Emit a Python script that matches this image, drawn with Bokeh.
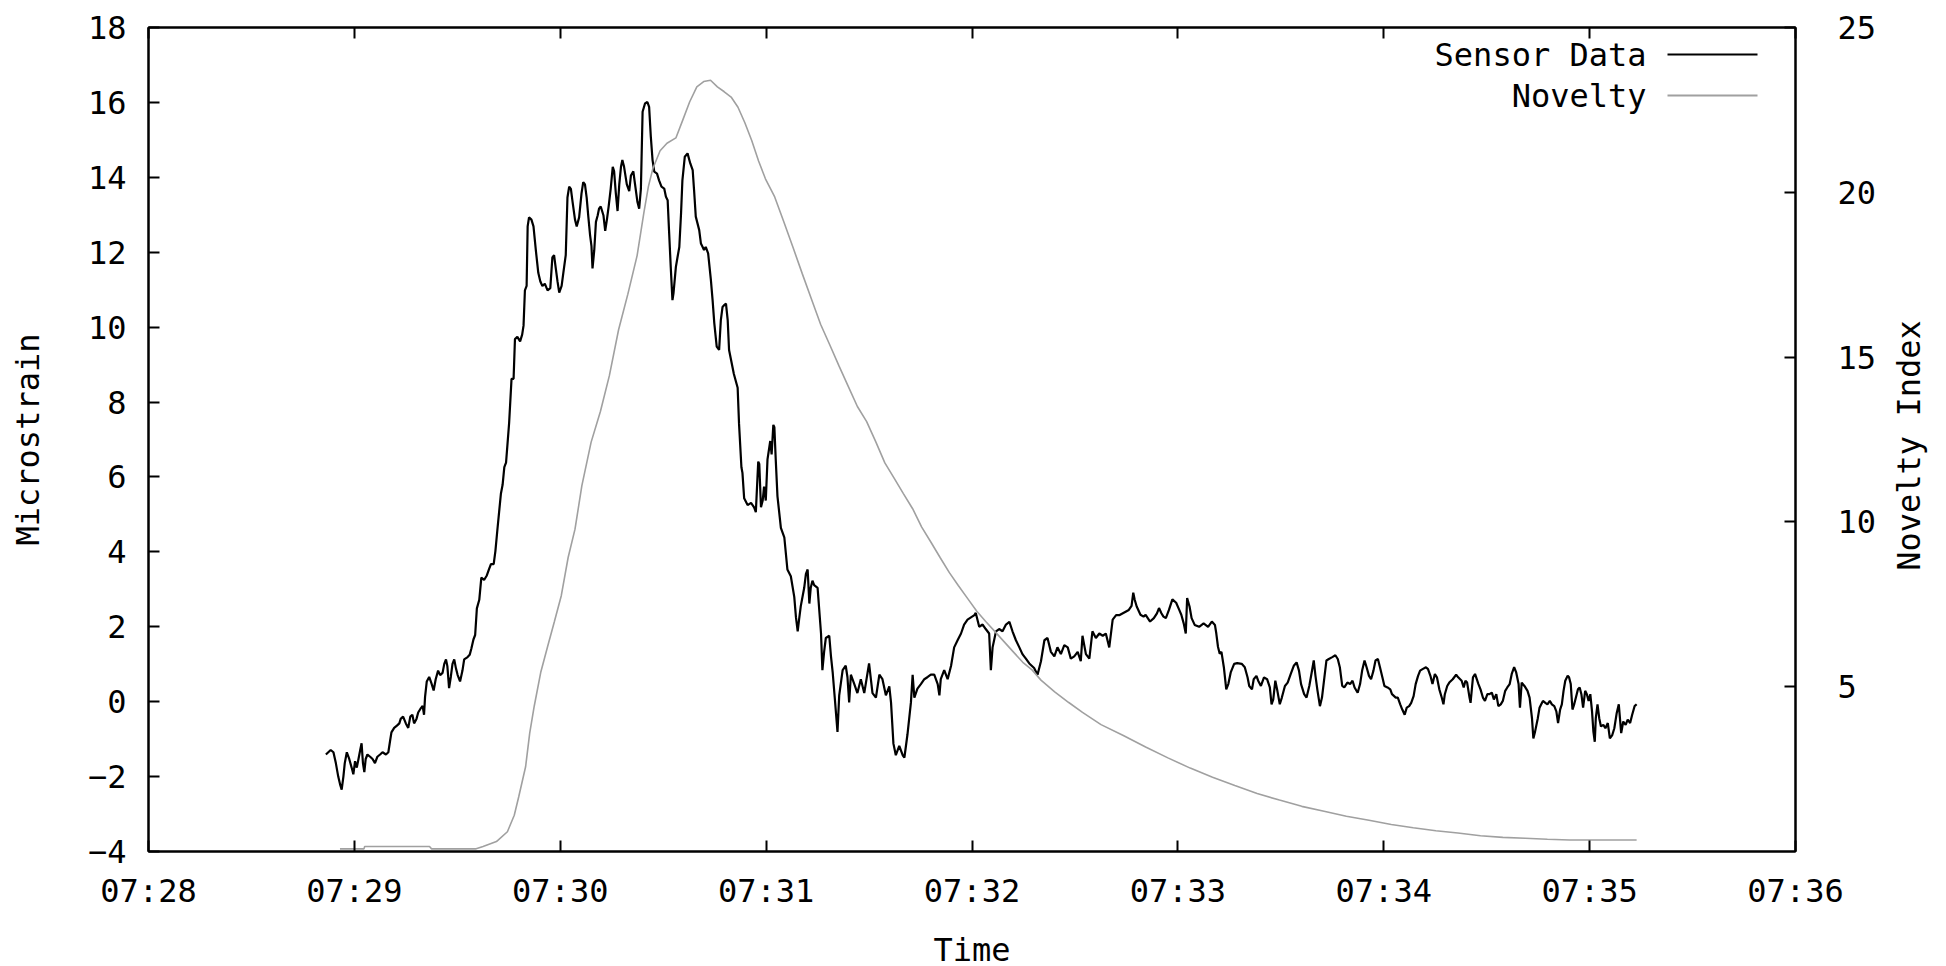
import pandas as pd
import math
from bokeh.plotting import figure
from bokeh.layouts import row
from bokeh.models import (LinearAxis, DatetimeAxis, Range1d, FixedTicker,
                          DatetimeTickFormatter, Label, BoxAnnotation)
from bokeh.embed import file_html
from bokeh.resources import INLINE

# ---------------- data ----------------
DAY = "2012-01-01"
START = "07:28:00"
x_tick_labels = ["07:28", "07:29", "07:30", "07:31", "07:32",
                 "07:33", "07:34", "07:35", "07:36"]
left_ticks = [-4, -2, 0, 2, 4, 6, 8, 10, 12, 14, 16, 18]
right_ticks = [5, 10, 15, 20, 25]
legend_labels = ["Sensor Data", "Novelty"]
axis_titles = {"x": "Time", "y": "Microstrain", "y2": "Novelty Index"}

# seconds after 07:28:00 and microstrain values
sensor_sec = [
    51.7, 53.1, 53.9, 54.6, 55.3, 55.9, 56.3, 56.8, 57.2, 57.8,
    58.5, 59.2, 59.7, 60.2, 60.7, 61.2, 61.7, 62.1, 62.5, 62.9,
    63.3, 63.8, 64.6, 65.3, 66.0, 66.7, 67.5, 68.2, 69.2, 69.9,
    70.4, 70.8, 71.6, 72.4, 73.1, 73.5, 74.2, 75.0, 75.7, 76.3,
    76.9, 77.4, 78.1, 78.6, 79.4, 79.9, 80.3, 80.6, 81.1, 81.8,
    82.5, 83.1, 83.7, 84.4, 85.0, 85.7, 86.2, 86.7, 87.1, 87.6,
    88.1, 88.6, 89.1, 89.6, 90.1, 90.8, 91.5, 92.0, 93.0, 93.6,
    94.1, 94.7, 95.2, 95.7, 96.4, 97.0, 97.8, 98.6, 99.3, 99.8,
    100.6, 101.1, 101.7, 102.2, 102.7, 103.2, 103.7, 104.2, 104.6, 105.1,
    105.8, 106.4, 106.8, 107.5, 108.3, 108.9, 109.3, 109.7, 110.2, 110.5,
    110.9, 111.6, 112.2, 112.9, 113.6, 114.2, 114.8, 115.5, 116.3, 117.1,
    117.7, 118.2, 118.7, 119.2, 119.7, 120.4, 120.9, 121.6, 122.1, 122.6,
    123.1, 123.6, 124.3, 124.8, 125.5, 126.2, 126.7, 127.2, 127.7, 128.2,
    128.7, 129.1, 129.4, 129.9, 130.4, 130.9, 131.3, 131.8, 132.6, 133.1,
    133.6, 134.1, 134.7, 135.3, 135.7, 136.2, 136.7, 137.2, 137.7, 138.1,
    138.6, 139.4, 140.1, 140.6, 141.3, 141.8, 142.5, 143.0, 143.5, 144.0,
    144.7, 145.4, 145.9, 146.4, 146.9, 147.4, 148.2, 148.8, 149.5, 150.3,
    150.8, 151.3, 151.7, 152.2, 152.7, 153.0, 153.7, 154.2, 154.7, 155.2,
    155.6, 156.3, 157.1, 157.9, 158.6, 159.0, 159.5, 160.0, 160.5, 161.0,
    161.5, 161.9, 162.4, 163.1, 163.9, 164.4, 164.9, 165.6, 166.3, 166.8,
    167.3, 167.8, 168.3, 168.8, 169.2, 170.6, 171.7, 172.1, 172.8, 173.1,
    173.6, 174.6, 175.6, 176.5, 177.0, 177.7, 178.0, 178.5, 179.0, 179.4,
    179.9, 180.4, 181.2, 181.6, 182.1, 182.4, 182.8, 183.3, 184.3, 185.3,
    186.2, 187.2, 188.2, 188.7, 189.2, 189.6, 190.1, 191.1, 191.6, 192.1,
    192.6, 193.0, 193.5, 194.0, 195.0, 196.0, 196.4, 196.9, 197.4, 198.4,
    198.9, 199.4, 200.0, 200.8, 201.3, 202.3, 203.2, 203.7, 204.2, 204.7,
    205.7, 206.6, 207.6, 208.6, 210.0, 211.0, 212.0, 213.0, 213.9, 214.9,
    215.9, 216.4, 217.1, 217.8, 218.8, 219.8, 220.3, 221.2, 222.2, 222.7,
    223.2, 224.1, 225.1, 226.1, 227.1, 228.0, 229.0, 230.0, 230.5, 230.9,
    231.9, 232.9, 233.9, 234.8, 235.8, 236.8, 237.7, 238.7, 239.7, 240.7,
    241.1, 242.1, 243.1, 244.0, 245.0, 245.5, 246.0, 247.0, 247.9, 248.9,
    249.9, 250.9, 251.8, 252.8, 253.8, 254.7, 255.7, 256.7, 258.1, 259.1,
    260.1, 261.1, 262.0, 263.0, 264.0, 264.9, 265.9, 266.9, 267.9, 268.8,
    269.8, 270.8, 271.7, 272.2, 273.2, 274.2, 275.1, 276.1, 277.1, 278.1,
    279.0, 280.0, 281.0, 282.0, 282.9, 285.7, 286.5, 287.0, 287.4, 288.0,
    289.1, 290.0, 290.6, 291.9, 293.0, 293.9, 294.5, 295.2, 295.8, 296.5,
    297.4, 298.4, 299.5, 300.4, 301.0, 301.7, 302.3, 302.7, 303.4, 304.0,
    304.9, 306.2, 307.5, 308.8, 309.9, 310.8, 311.2, 311.7, 312.2, 312.7,
    313.4, 314.1, 314.7, 315.4, 316.4, 317.3, 318.6, 319.5, 320.3, 320.8,
    321.6, 322.1, 322.9, 323.4, 324.2, 325.1, 326.0, 326.8, 327.3, 327.8,
    328.4, 329.0, 329.7, 330.3, 331.2, 332.0, 332.9, 333.8, 334.6, 335.3,
    335.9, 336.8, 337.5, 338.3, 339.0, 339.6, 340.1, 340.7, 341.4, 342.0,
    342.7, 343.3, 344.0, 345.0, 345.9, 346.6, 347.2, 347.9, 348.5, 349.4,
    350.2, 350.9, 351.5, 352.4, 353.1, 353.7, 354.4, 355.0, 355.7, 356.3,
    357.0, 357.6, 358.3, 358.9, 359.6, 360.2, 361.1, 361.9, 362.4, 363.5,
    364.1, 364.8, 365.4, 366.1, 366.7, 367.4, 368.0, 368.7, 369.3, 370.0,
    370.6, 371.3, 372.3, 372.9, 373.6, 374.2, 374.9, 375.5, 376.2, 376.9,
    377.4, 377.8, 378.5, 379.1, 380.1, 381.1, 381.7, 382.7, 383.3, 383.8,
    384.3, 385.0, 385.3, 386.0, 386.6, 387.6, 388.2, 388.9, 389.5, 390.2,
    390.8, 391.5, 392.1, 392.8, 393.4, 394.1, 394.7, 395.4, 396.0, 396.7,
    397.3, 398.0, 398.6, 399.3, 399.7, 400.2, 401.0, 401.9, 402.5, 403.2,
    403.6, 404.1, 404.9, 405.4, 405.9, 406.4, 407.1, 407.7, 408.4, 409.0,
    409.7, 410.3, 410.8, 411.4, 411.9, 412.4, 412.9, 413.6, 414.0, 414.5,
    415.0, 415.5, 416.0, 416.6, 417.1, 417.6, 418.1, 418.7, 419.2, 419.7,
    420.2, 420.7, 421.1, 421.5, 421.8, 422.3, 422.8, 423.3, 424.0, 424.6,
    425.3, 425.9, 426.6, 427.2, 427.9, 428.5, 429.2, 429.8, 430.5, 431.1,
    431.8, 432.4, 433.1, 433.7,
]
sensor_val = [
    -1.41, -1.29, -1.35, -1.64, -2.00, -2.23, -2.35, -2.00, -1.64, -1.35,
    -1.53, -1.76, -1.94, -1.59, -1.76, -1.53, -1.29, -1.11, -1.64, -1.88,
    -1.53, -1.41, -1.47, -1.53, -1.64, -1.47, -1.41, -1.35, -1.41, -1.35,
    -1.05, -0.82, -0.70, -0.64, -0.58, -0.46, -0.40, -0.58, -0.70, -0.40,
    -0.35, -0.58, -0.46, -0.29, -0.17, -0.11, -0.35, 0.13, 0.54, 0.66,
    0.48, 0.30, 0.60, 0.83, 0.71, 0.77, 1.01, 1.13, 0.95, 0.36,
    0.66, 1.01, 1.13, 0.89, 0.71, 0.54, 0.83, 1.13, 1.19, 1.25,
    1.42, 1.66, 1.78, 2.49, 2.72, 3.31, 3.25, 3.37, 3.55, 3.67,
    3.67, 4.02, 4.61, 5.08, 5.55, 5.79, 6.26, 6.38, 6.85, 7.44,
    8.62, 8.62, 9.68, 9.74, 9.62, 9.80, 10.04, 10.98, 11.10, 12.69,
    12.93, 12.87, 12.69, 12.04, 11.45, 11.22, 11.10, 11.16, 10.98, 11.04,
    11.86, 11.92, 11.57, 11.22, 10.92, 11.10, 11.45, 11.92, 13.46, 13.75,
    13.69, 13.34, 12.87, 12.69, 12.93, 13.57, 13.87, 13.81, 13.46, 12.93,
    12.45, 12.16, 11.57, 12.04, 12.81, 12.98, 13.16, 13.22, 12.98, 12.57,
    12.87, 13.22, 13.69, 14.28, 14.16, 13.57, 13.10, 13.81, 14.28, 14.46,
    14.28, 13.81, 13.63, 14.05, 14.16, 13.81, 13.34, 13.16, 13.69, 15.75,
    15.97, 16.01, 15.88, 15.08, 14.46, 14.15, 14.10, 13.92, 13.75, 13.70,
    13.48, 13.39, 12.59, 11.61, 10.72, 10.90, 11.61, 11.88, 12.14, 13.03,
    13.92, 14.55, 14.64, 14.37, 14.19, 13.66, 12.95, 12.77, 12.59, 12.23,
    12.14, 12.06, 12.14, 11.97, 11.26, 10.72, 10.10, 9.48, 9.39, 10.19,
    10.54, 10.59, 10.63, 10.19, 9.39, 8.75, 8.38, 7.43, 6.26, 6.11,
    5.43, 5.25, 5.31, 5.19, 5.06, 6.41, 6.35, 5.19, 5.37, 5.74,
    5.37, 6.47, 6.96, 6.60, 7.39, 7.33, 6.47, 5.49, 4.64, 4.39,
    3.53, 3.35, 2.80, 2.25, 1.88, 2.19, 2.55, 3.04, 3.41, 3.53,
    2.62, 3.04, 3.23, 3.11, 3.04, 1.82, 0.84, 1.33, 1.70, 1.76,
    1.21, 0.78, 0.11, -0.81, 0.17, 0.84, 0.96, 0.66, -0.02, 0.72,
    0.47, 0.23, 0.60, 0.23, 1.02, 0.23, 0.11, 0.72, 0.60, 0.17,
    0.41, -0.02, -1.12, -1.43, -1.18, -1.43, -1.49, -0.87, -0.02, 0.72,
    0.11, 0.35, 0.47, 0.60, 0.66, 0.72, 0.72, 0.47, 0.17, 0.60,
    0.84, 0.60, 0.96, 1.45, 1.64, 1.82, 2.06, 2.19, 2.25, 2.31,
    2.37, 2.00, 2.06, 1.94, 1.82, 0.84, 1.45, 1.88, 1.94, 1.88,
    2.06, 2.13, 1.88, 1.64, 1.45, 1.27, 1.15, 1.02, 0.90, 0.72,
    1.08, 1.64, 1.70, 1.33, 1.21, 1.45, 1.27, 1.51, 1.45, 1.15,
    1.21, 1.33, 1.08, 1.76, 1.27, 1.15, 1.88, 1.70, 1.82, 1.76,
    1.82, 1.45, 2.19, 2.31, 2.31, 2.45, 2.56, 2.91, 2.73, 2.54,
    2.32, 2.27, 2.32, 2.14, 2.23, 2.36, 2.50, 2.36, 2.27, 2.23,
    2.45, 2.73, 2.64, 2.45, 2.32, 2.09, 1.82, 2.77, 2.54, 2.23,
    2.05, 2.00, 2.09, 2.00, 2.14, 2.05, 1.82, 1.46, 1.28, 1.33,
    0.92, 0.33, 0.47, 0.78, 1.01, 1.03, 1.01, 0.92, 0.65, 0.42,
    0.33, 0.60, 0.69, 0.56, 0.42, 0.65, 0.60, 0.38, -0.07, 0.06,
    0.56, 0.29, -0.07, 0.11, 0.42, 0.51, 0.74, 0.96, 1.05, 0.83,
    0.47, 0.20, 0.11, 0.42, 0.78, 1.10, 0.69, 0.29, -0.12, 0.11,
    0.65, 1.10, 1.14, 1.19, 1.24, 1.14, 0.92, 0.42, 0.38, 0.51,
    0.47, 0.56, 0.38, 0.24, 0.47, 0.83, 1.10, 0.92, 0.69, 0.60,
    0.83, 1.10, 1.14, 0.92, 0.65, 0.42, 0.38, 0.33, 0.20, 0.11,
    0.11, -0.07, -0.21, -0.35, -0.16, -0.12, -0.03, 0.15, 0.47, 0.69,
    0.83, 0.87, 0.92, 0.87, 0.69, 0.47, 0.74, 0.65, 0.33, 0.11,
    -0.07, 0.20, 0.42, 0.51, 0.60, 0.72, 0.65, 0.56, 0.38, 0.56,
    0.51, 0.11, -0.03, 0.65, 0.74, 0.47, 0.33, 0.11, 0.02, 0.20,
    0.20, 0.24, 0.06, 0.20, -0.12, -0.07, 0.02, 0.29, 0.38, 0.47,
    0.74, 0.92, 0.78, 0.47, -0.16, 0.51, 0.42, 0.29, 0.11, -0.44,
    -0.98, -0.80, -0.44, -0.16, -0.07, 0.02, -0.03, -0.07, 0.02, -0.07,
    -0.12, -0.26, -0.57, -0.21, -0.07, 0.29, 0.56, 0.69, 0.65, 0.47,
    -0.21, -0.07, 0.11, 0.33, 0.38, 0.20, -0.16, 0.29, 0.20, 0.02,
    0.20, -0.26, -0.80, -1.07, -0.44, -0.07, -0.44, -0.66, -0.62, -0.71,
    -0.57, -0.98, -0.89, -0.71, -0.30, -0.07, -0.84, -0.53, -0.62, -0.48,
    -0.57, -0.35, -0.12, -0.07,
]

# seconds after 07:28:00 and novelty index values
novelty_sec = [
    55.8, 62.8, 63.0, 81.9, 82.5, 95.5, 97.5, 101.4, 104.6, 106.6,
    107.9, 109.9, 111.1, 112.4, 114.3, 116.3, 118.3, 120.3, 122.3, 124.3,
    126.3, 129.0, 131.7, 134.3, 137.0, 139.7, 142.4, 144.4, 145.7, 147.0,
    149.1, 151.1, 153.7, 155.7, 157.7, 159.8, 161.8, 163.8, 165.8, 167.8,
    169.8, 171.8, 173.8, 175.8, 177.8, 179.8, 182.5, 185.2, 187.9, 190.5,
    193.2, 195.9, 198.6, 201.2, 203.9, 206.6, 209.3, 212.0, 214.6, 217.3,
    220.0, 222.7, 225.3, 228.0, 230.7, 233.4, 236.0, 238.7, 241.4, 244.0,
    246.7, 249.4, 252.1, 254.8, 257.5, 260.1, 264.1, 268.2, 272.2, 277.6,
    284.1, 290.6, 297.1, 303.6, 310.1, 316.6, 323.1, 329.6, 336.1, 342.6,
    349.1, 355.7, 362.2, 368.6, 375.2, 381.6, 388.2, 394.7, 401.2, 407.7,
    414.2, 420.7, 433.7,
]
novelty_val = [
    0.08, 0.08, 0.15, 0.15, 0.08, 0.08, 0.15, 0.30, 0.60, 1.10,
    1.66, 2.57, 3.59, 4.40, 5.43, 6.21, 6.98, 7.76, 8.92, 9.78,
    11.10, 12.42, 13.35, 14.43, 15.83, 16.91, 18.08, 19.40, 20.18, 20.72,
    21.26, 21.49, 21.65, 22.19, 22.74, 23.20, 23.36, 23.40, 23.20, 23.05,
    22.89, 22.58, 22.11, 21.57, 20.95, 20.41, 19.86, 19.09, 18.31, 17.54,
    16.76, 15.99, 15.36, 14.74, 14.12, 13.50, 13.04, 12.42, 11.79, 11.33,
    10.86, 10.40, 9.85, 9.39, 8.92, 8.46, 8.07, 7.68, 7.29, 6.98,
    6.67, 6.36, 6.05, 5.74, 5.51, 5.20, 4.84, 4.52, 4.22, 3.85,
    3.52, 3.17, 2.84, 2.53, 2.25, 2.00, 1.76, 1.56, 1.37, 1.22,
    1.07, 0.95, 0.82, 0.72, 0.63, 0.56, 0.48, 0.43, 0.40, 0.37,
    0.35, 0.35, 0.35,
]

# ---------------- helpers ----------------
base = pd.Timestamp(f"{DAY} {START}")


def to_time(secs):
    return (base + pd.to_timedelta(secs, unit="s")).to_numpy()


tick_ms = [pd.Timestamp(f"{DAY} {t}").value / 1e6 for t in x_tick_labels]

FONT = "DejaVu Sans Mono"
FS = "32px"
SENSOR_COLOR = "black"
NOVELTY_COLOR = "#a0a0a0"
FRAME_W, FRAME_H = 1647, 824
BORDER_L, BORDER_R, BORDER_T, BORDER_B = 148, 95, 27, 113
TOTAL_H = BORDER_T + FRAME_H + BORDER_B
SIDE_W = 50

p = figure(frame_width=FRAME_W, frame_height=FRAME_H, x_axis_type="datetime",
           x_range=Range1d(tick_ms[0], tick_ms[-1]), y_range=Range1d(-4, 18),
           min_border_left=BORDER_L, min_border_right=BORDER_R,
           min_border_top=BORDER_T, min_border_bottom=BORDER_B,
           output_backend="svg", toolbar_location=None,
           background_fill_color="white", border_fill_color="white")
p.extra_y_ranges = {"novelty": Range1d(0, 25)}
p.grid.visible = False
p.outline_line_color = "black"
p.outline_line_width = 2
p.outline_line_alpha = 1.0

p.line(to_time(sensor_sec), sensor_val, line_color=SENSOR_COLOR, line_width=2.2)
p.line(to_time(novelty_sec), novelty_val, y_range_name="novelty",
       line_color=NOVELTY_COLOR, line_width=1.6)

fmt = DatetimeTickFormatter(seconds="%H:%M", minsec="%H:%M", minutes="%H:%M",
                            hourmin="%H:%M", hours="%H:%M")

xa = p.xaxis[0]
xa.ticker = FixedTicker(ticks=tick_ms)
xa.formatter = fmt
xa.axis_label = axis_titles["x"]

ya = p.yaxis[0]
ya.ticker = FixedTicker(ticks=left_ticks)
ya.axis_label = axis_titles["y"]

ra = LinearAxis(y_range_name="novelty", ticker=FixedTicker(ticks=right_ticks))
p.add_layout(ra, "right")

ta = DatetimeAxis(ticker=FixedTicker(ticks=tick_ms), formatter=fmt)
p.add_layout(ta, "above")

for ax in (xa, ya, ra, ta):
    ax.major_tick_in = 11
    ax.major_tick_out = 0
    ax.minor_tick_in = 0
    ax.minor_tick_out = 0
    ax.axis_line_color = "black"
    ax.axis_line_width = 2
    ax.major_tick_line_color = "black"
    ax.major_tick_line_width = 2
    ax.major_label_text_font = FONT
    ax.major_label_text_font_size = FS
    ax.major_label_text_color = "black"
    ax.axis_label_text_font = FONT
    ax.axis_label_text_font_size = FS
    ax.axis_label_text_color = "black"
    ax.axis_label_text_font_style = "normal"

ta.major_label_text_font_size = "1px"
ta.major_label_text_alpha = 0
ta.major_label_standoff = 0

xa.major_label_standoff = 20
xa.axis_label_standoff = 18
ya.major_label_standoff = 22
ya.axis_label_standoff = 38
ra.major_label_standoff = 42

# gnuplot-style key: text right-aligned, sample line to its right
key_y = [797, 756]
for lab, col, ky in zip(legend_labels, [SENSOR_COLOR, NOVELTY_COLOR], key_y):
    p.add_layout(Label(x=1498, y=ky, x_units="screen", y_units="screen", text=lab,
                       text_align="right", text_baseline="middle", text_font=FONT,
                       text_font_size=FS, text_color="black"))
    p.add_layout(BoxAnnotation(left=1519, right=1609, bottom=ky - 1, top=ky + 1,
                               left_units="screen", right_units="screen",
                               top_units="screen", bottom_units="screen",
                               fill_color=col, fill_alpha=1.0, line_alpha=0))

# narrow strip to the right holding the y2 title, reading bottom to top
side = figure(width=SIDE_W, height=TOTAL_H, x_range=(0, 1), y_range=(0, 1),
              min_border=0, output_backend="svg", toolbar_location=None,
              outline_line_color=None, background_fill_color="white",
              border_fill_color="white")
side.axis.visible = False
side.grid.visible = False
side.add_layout(Label(x=18, y=399, x_units="screen", y_units="screen",
                      text=axis_titles["y2"], angle=math.pi / 2,
                      text_align="center", text_baseline="middle",
                      text_font=FONT, text_font_size=FS, text_color="black"))

layout = row(p, side, spacing=0)
open("out.html", "w").write(file_html(layout, INLINE))
